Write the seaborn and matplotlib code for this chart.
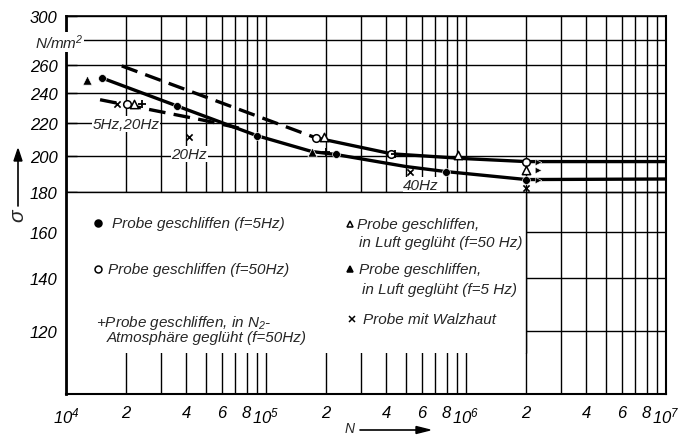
import numpy as np
import pandas as pd
import seaborn as sns
import matplotlib.pyplot as plt
from matplotlib.patches import Rectangle
from matplotlib.ticker import FixedLocator, FixedFormatter, NullLocator

# estilo
sns.set_theme(style="white")
fonte = ['Liberation Sans Narrow', 'Liberation Sans', 'DejaVu Sans']
plt.rcParams['font.family'] = fonte
plt.rcParams['font.style'] = 'italic'
plt.rcParams['mathtext.fontset'] = 'custom'
plt.rcParams['mathtext.rm'] = 'Liberation Sans:italic'
plt.rcParams['mathtext.it'] = 'Liberation Sans:italic'
plt.rcParams['mathtext.default'] = 'it'

# curvas (N, sigma em N/mm2)
curva_5hz_x = [1.51e4, 3.57e4, 9.0e4, 1.7e5, 2.23e5, 5.0e5, 7.9e5, 2.0e6, 1.0e7]
curva_5hz_y = [250.6, 231.1, 211.9, 202.3, 200.6, 193.7, 190.9, 186.5, 186.8]
curva_50hz_tr_x = [1.9e4, 9.2e4, 1.77e5]
curva_50hz_tr_y = [259.5, 223.9, 210.6]
curva_50hz_x = [1.77e5, 4.24e5, 9.9e5, 2.0e6, 1.0e7]
curva_50hz_y = [210.6, 201.0, 198.2, 196.5, 196.5]
curva_20hz_x = [1.48e4, 5.0e4, 8.0e4]
curva_20hz_y = [235.2, 221.3, 215.5]

# pontos de ensaio
cheio_x = [1.51e4, 3.57e4, 9.0e4, 2.23e5, 7.9e5, 2.0e6]
cheio_y = [250.6, 231.1, 211.9, 200.6, 190.9, 186.5]
aberto_x = [2.01e4, 1.77e5, 4.24e5, 2.0e6]
aberto_y = [232.5, 210.6, 201.0, 196.5]
tri_aberto_x = [2.18e4, 1.94e5, 9.1e5, 2.0e6]
tri_aberto_y = [232.5, 210.9, 200.5, 191.5]
tri_cheio_x = [1.27e4, 1.69e5]
tri_cheio_y = [249.2, 202.3]
mais_x = [2.39e4, 1.99e5, 4.4e5]
mais_y = [232.5, 202.3, 201.0]
xis_x = [1.79e4, 4.14e4, 5.26e5, 2.0e6]
xis_y = [232.5, 211.1, 190.9, 182.2]
seta_x = [2.3e6, 2.3e6, 2.3e6]
seta_y = [196.5, 191.5, 186.5]

# eixos
y_ticks = [120, 140, 160, 180, 200, 220, 240, 260, 280, 300]
y_labels = ['120', '140', '160', '180', '200', '220', '240', '260', '', '300']
x_major = [1e4, 1e5, 1e6, 1e7]
x_major_labels = ['$10^4$', '$10^5$', '$10^6$', '$10^7$']
x_minor = [m * 10.0 ** d for d in (4, 5, 6) for m in range(2, 10)]
x_minor_labels = [str(m) if m % 2 == 0 else '' for d in (4, 5, 6) for m in range(2, 10)]

W, H = 695, 439
def fx(px):
    return px / W
def fy(py):
    return 1 - py / H

fig = plt.figure(figsize=(W / 100, H / 100), dpi=100)
ax = fig.add_axes([fx(66), fy(395), fx(666) - fx(66), fy(17) - fy(395)])
ax.set_xscale('log')
ax.set_yscale('log')
ax.set_xlim(1e4, 1e7)
ax.set_ylim(100, 300)

# grade desenhada à mão
ax.vlines(x_major + x_minor, 100, 300, color='black', lw=1.0, zorder=0.5)
ax.hlines(y_ticks, 1e4, 1e7, color='black', lw=1.0, zorder=0.5)
ax.add_patch(Rectangle((1e4, 112.6), 2e6 - 1e4, 180 - 112.6, facecolor='white',
                       edgecolor='none', zorder=0.8))
ax.hlines([180], 1e4, 1e7, color='black', lw=1.0, zorder=0.9)
ax.vlines([2e6], 112.6, 180, color='black', lw=1.0, zorder=0.9)

# curvas
sns.lineplot(x=curva_5hz_x, y=curva_5hz_y, color='black', lw=2.4, ax=ax, zorder=3)
sns.lineplot(x=curva_50hz_x, y=curva_50hz_y, color='black', lw=2.4, ax=ax, zorder=3)
sns.lineplot(x=curva_50hz_tr_x, y=curva_50hz_tr_y, color='black', lw=2.4, ax=ax,
             zorder=3, linestyle=(0, (5, 2.5)))
sns.lineplot(x=curva_20hz_x, y=curva_20hz_y, color='black', lw=2.4, ax=ax,
             zorder=3, linestyle=(0, (5, 2.5)))

# pontos
sns.scatterplot(x=cheio_x, y=cheio_y, marker='o', s=32, color='black', ax=ax, zorder=4)
sns.scatterplot(x=aberto_x, y=aberto_y, marker='o', s=30, facecolor='white',
                edgecolor='black', linewidth=1.1, ax=ax, zorder=4)
sns.scatterplot(x=tri_aberto_x, y=tri_aberto_y, marker='^', s=36, facecolor='white',
                edgecolor='black', linewidth=1.1, ax=ax, zorder=4)
sns.scatterplot(x=tri_cheio_x, y=tri_cheio_y, marker='^', s=45, color='black', ax=ax, zorder=4)
sns.scatterplot(x=mais_x, y=mais_y, marker='+', s=30, color='black', linewidth=1.3, ax=ax, zorder=4)
sns.scatterplot(x=xis_x, y=xis_y, marker='x', s=20, color='black', linewidth=1.2, ax=ax, zorder=4)
sns.scatterplot(x=seta_x, y=seta_y, marker='>', s=22, color='black', ax=ax, zorder=4)

# rótulos das frequências
caixa = dict(facecolor='white', edgecolor='none', pad=0.5)
ax.text(1.99e4, 219.3, '5Hz,20Hz', fontsize=11, ha='center', va='center', bbox=caixa, zorder=5)
ax.text(4.14e4, 201.0, '20Hz', fontsize=11, ha='center', va='center', bbox=caixa, zorder=5)
ax.text(5.97e5, 183.8, '40Hz', fontsize=11, ha='center', va='center', bbox=caixa, zorder=5)

# ticks
ax.yaxis.set_major_locator(FixedLocator(y_ticks))
ax.yaxis.set_major_formatter(FixedFormatter(y_labels))
ax.yaxis.set_minor_locator(NullLocator())
ax.xaxis.set_major_locator(FixedLocator(x_major))
ax.xaxis.set_major_formatter(FixedFormatter(x_major_labels))
ax.xaxis.set_minor_locator(FixedLocator(x_minor))
ax.xaxis.set_minor_formatter(FixedFormatter(x_minor_labels))
ax.tick_params(axis='y', which='major', direction='in', length=8, width=1,
               labelsize=12, pad=6, colors='black', left=True)
ax.tick_params(axis='x', which='both', length=0, labelsize=12, pad=8, colors='black')
for s, lw in zip(['left', 'bottom', 'top', 'right'], [2.0, 1.5, 1.2, 1.5]):
    ax.spines[s].set_color('black')
    ax.spines[s].set_linewidth(lw)

# unidade e eixos
fig.text(fx(35), fy(43), 'N/mm$^2$', fontsize=11, ha='left', va='center',
         bbox=dict(facecolor='white', edgecolor='none', pad=0.3), zorder=10)
fig.text(fx(18), fy(216), 'σ', fontsize=15, rotation=90, ha='center', va='center')
fig.add_artist(plt.Line2D([fx(18), fx(18)], [fy(207), fy(160)], color='black', lw=1.2))
fig.add_artist(plt.Polygon([[fx(14), fy(162)], [fx(22), fy(162)], [fx(18), fy(150)]],
                           closed=True, color='black'))
fig.text(fx(350), fy(429), 'N', fontsize=10, ha='center', va='center')
fig.add_artist(plt.Line2D([fx(360), fx(418)], [fy(431), fy(431)], color='black', lw=1.2))
fig.add_artist(plt.Polygon([[fx(416), fy(427.5)], [fx(416), fy(434.5)], [fx(430), fy(431)]],
                           closed=True, color='black'))

# legenda
leg = 11
fig.text(fx(112), fy(224), 'Probe geschliffen (f=5Hz)', fontsize=leg, va='center')
fig.text(fx(108), fy(270), 'Probe geschliffen (f=50Hz)', fontsize=leg, va='center')
fig.text(fx(96), fy(323), '+Probe geschliffen, in N$_2$-', fontsize=leg, va='center')
fig.text(fx(107), fy(338), 'Atmosphäre geglüht (f=50Hz)', fontsize=leg, va='center')
fig.text(fx(357), fy(225), 'Probe geschliffen,', fontsize=leg, va='center')
fig.text(fx(359), fy(243), 'in Luft geglüht (f=50 Hz)', fontsize=leg, va='center')
fig.text(fx(359), fy(270), 'Probe geschliffen,', fontsize=leg, va='center')
fig.text(fx(362), fy(290), 'in Luft geglüht (f=5 Hz)', fontsize=leg, va='center')
fig.text(fx(363), fy(320), 'Probe mit Walzhaut', fontsize=leg, va='center')
for px, py, mk, fc in [(98, 224, 'o', 'black'), (98, 270, 'o', 'white'),
                       (350, 225, '^', 'white'), (350, 270, '^', 'black'),
                       (352, 320, 'x', 'black')]:
    fig.add_artist(plt.Line2D([fx(px)], [fy(py)], marker=mk, markersize=5,
                              markerfacecolor=fc, markeredgecolor='black',
                              markeredgewidth=1.1, linestyle='none'))

fig.savefig('out.png', dpi=100)
